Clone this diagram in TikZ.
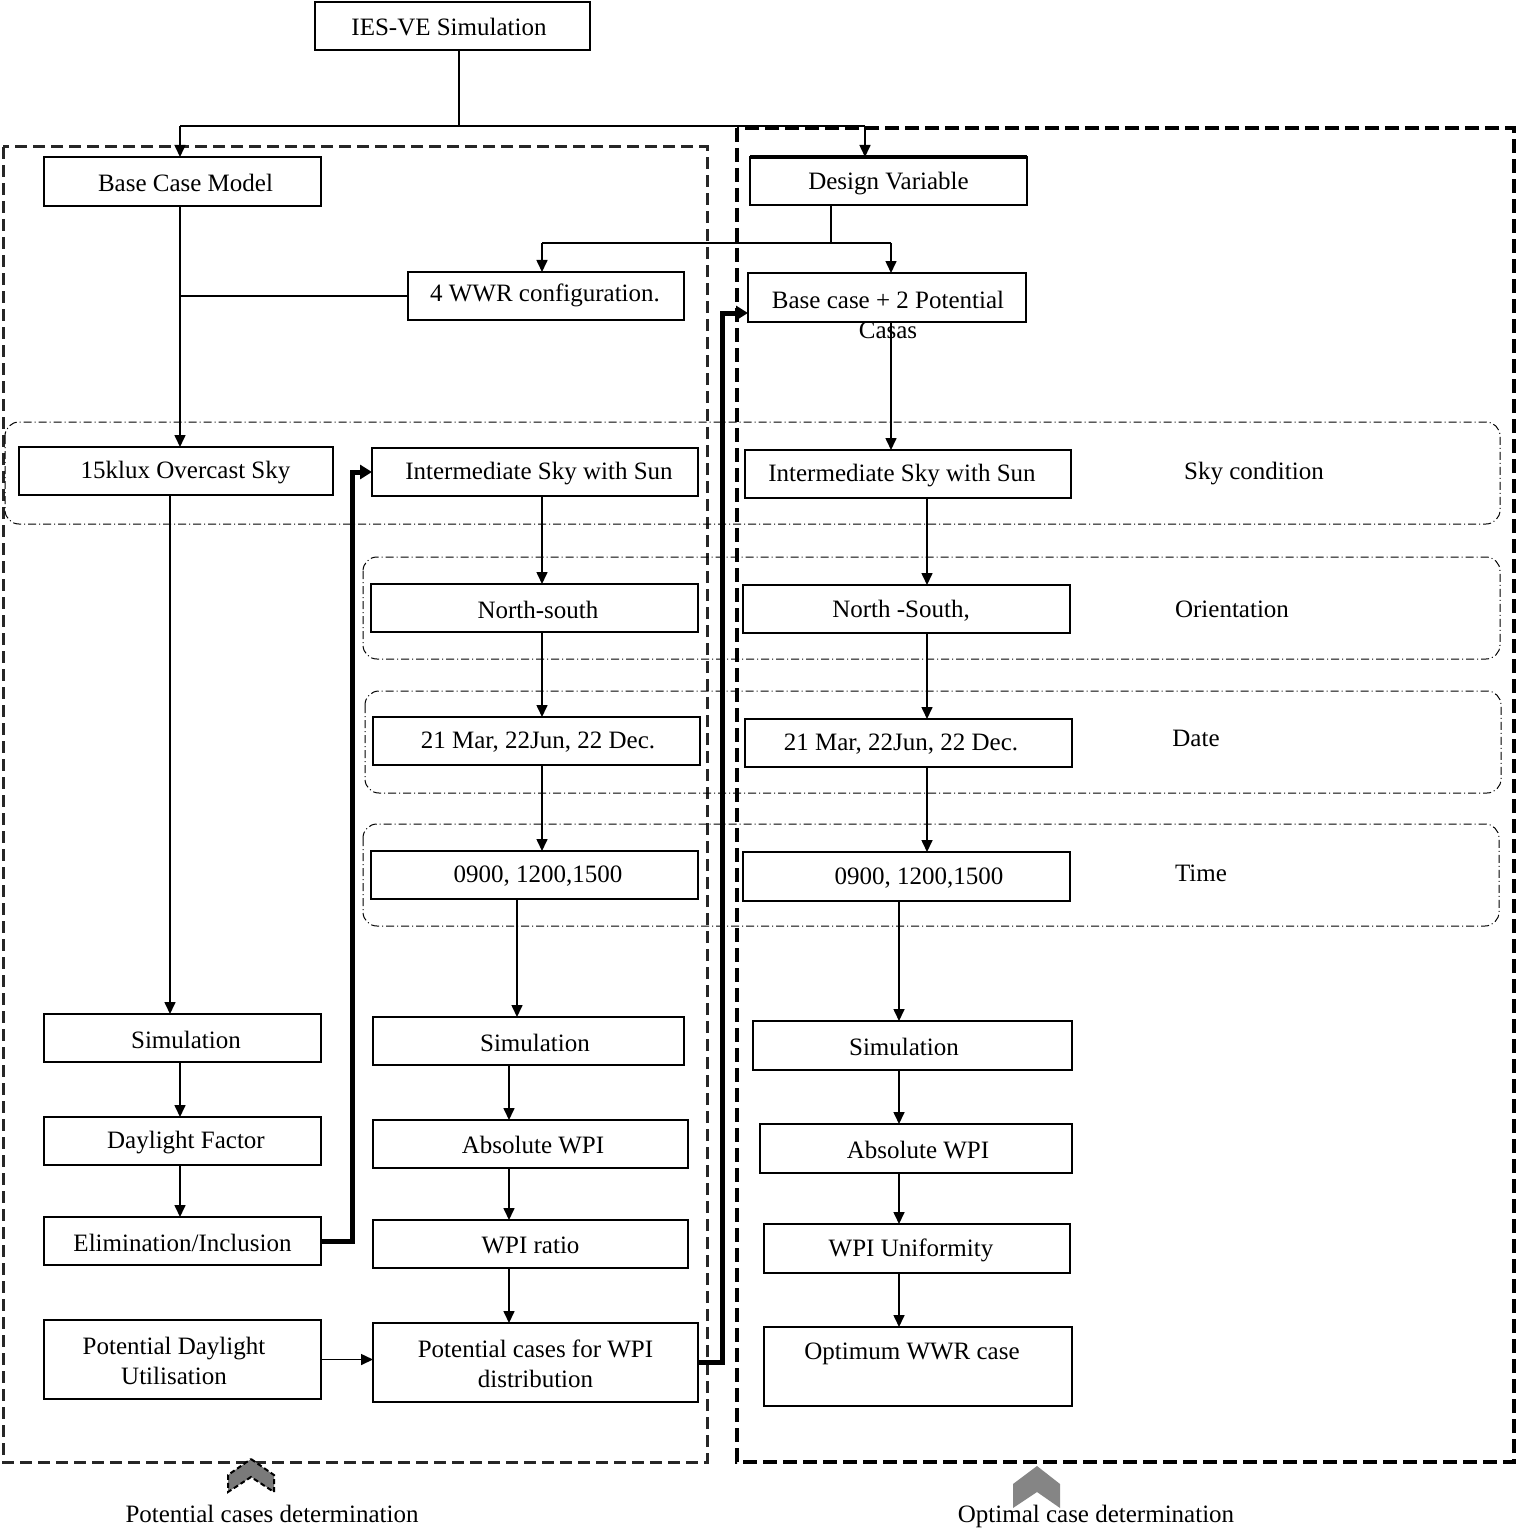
\documentclass[tikz,border=0pt]{standalone}
\usepackage{fontspec}
\setmainfont{Liberation Serif}
\usetikzlibrary{arrows.meta,calc}
\newcommand\bx[8]{%
  \node[box, minimum width={(#4-#2)*0.5pt}, minimum height={(#5-#3)*0.5pt},
        label={[txt, xshift={#6*0.5pt}, yshift={-(#7+1.5)*0.5pt}]center:{#8}}]
        (#1) at ({(#2+#4)/2},{(#3+#5)/2}) {};}
\begin{document}
\begin{tikzpicture}[x=0.5pt,y=-0.5pt,
  box/.style={draw=black, fill=white, line width=1pt, inner sep=0pt, outer sep=0pt},
  txt/.style={font=\fontsize{12.5}{15}\selectfont, align=center, inner sep=0pt},
  ln/.style={line width=0.8pt},
  arr/.style={line width=0.8pt, -{Triangle[length=6pt,width=5.5pt]}},
  boldarr/.style={line width=2.5pt, line join=miter, -{Triangle[length=6pt,width=7pt]}},
  band/.style={draw=black, line width=0.5pt, rounded corners=7pt, dash pattern=on 4pt off 1.5pt on 0.5pt off 1.5pt},
  leftframe/.style={draw=black!85, line width=1.5pt, dash pattern=on 6pt off 3pt},
  rightframe/.style={draw=black, line width=2pt, dash pattern=on 7pt off 3pt}
]
\useasboundingbox (0,0) rectangle (1516,1530);

% frames and bands
\draw[leftframe] (3,147) rectangle (707,1462);
\draw[rightframe] (737,128) rectangle (1514,1462);
\draw[band] (5,422) rectangle (1500,524);
\draw[band] (363,557) rectangle (1500,659);
\draw[band] (365,691) rectangle (1501,793);
\draw[band] (363,824) rectangle (1499,926);

% boxes
\bx{ies}{315}{2}{590}{50}{-3.5}{0}{IES-VE Simulation}
\bx{bcm}{44}{157}{321}{206}{3}{0}{Base Case Model}
\bx{dv}{750}{157}{1027}{205}{0}{1.5}{Design Variable}
\draw[line width=1.6pt] (dv.north west) -- (dv.north east);
\bx{wwr}{408}{272}{684}{320}{-1}{-2}{4 WWR configuration.}
\bx{bc2}{748}{273}{1026}{322}{1}{15.5}{Base case + 2 Potential\\Casas}
\bx{sky1}{19}{447}{333}{495}{9.5}{0}{15klux Overcast Sky}
\bx{isk1}{372}{448}{698}{496}{4}{0}{Intermediate Sky with Sun}
\bx{isk2}{745}{450}{1071}{498}{-6}{0}{Intermediate Sky with Sun}
\bx{ns1}{371}{584}{698}{632}{3.5}{0}{North-south}
\bx{ns2}{743}{585}{1070}{633}{-5.5}{0}{North -South,}
\bx{dt1}{373}{717}{700}{765}{1.5}{0}{21 Mar, 22Jun, 22 Dec.}
\bx{dt2}{745}{719}{1072}{767}{-7.5}{0}{21 Mar, 22Jun, 22 Dec.}
\bx{tm1}{371}{851}{698}{899}{3.5}{0}{0900, 1200,1500}
\bx{tm2}{743}{852}{1070}{901}{12.5}{0}{0900, 1200,1500}
\bx{sim1}{44}{1014}{321}{1062}{3.5}{0}{Simulation}
\bx{sim2}{373}{1017}{684}{1065}{6.5}{0}{Simulation}
\bx{sim3}{753}{1021}{1072}{1070}{-8.5}{0}{Simulation}
\bx{df}{44}{1117}{321}{1165}{3.5}{0}{Daylight Factor}
\bx{aw1}{373}{1120}{688}{1168}{2.5}{0}{Absolute WPI}
\bx{aw2}{760}{1124}{1072}{1173}{2}{0}{Absolute WPI}
\bx{el}{44}{1217}{321}{1265}{0}{0}{Elimination/Inclusion}
\bx{ratio}{373}{1220}{688}{1268}{0}{0}{WPI ratio}
\bx{unif}{764}{1224}{1070}{1273}{-6}{0}{WPI Uniformity}
\bx{pdu}{44}{1320}{321}{1399}{-8.5}{0}{Potential Daylight\\Utilisation}
\bx{pc}{373}{1323}{698}{1402}{0}{0}{Potential cases for WPI\\distribution}
\bx{opt}{764}{1327}{1072}{1406}{-6}{-14.5}{Optimum WWR case}

% texts
\node[txt] (lsky) at (1254,474) {Sky condition};
\node[txt] (lori) at (1232,609) {Orientation};
\node[txt] (ldate) at (1196,738) {Date};
\node[txt] (ltime) at (1201,873) {Time};
\node[txt] (lpot) at (272,1514) {Potential cases determination};
\node[txt] (lopt) at (1096,1516) {Optimal case determination};

% chevrons
\filldraw[fill=black!52, draw=black, line width=1pt, dash pattern=on 2.5pt off 1.5pt]
  (251,1459) -- (274,1475) -- (274,1492) -- (251,1477) -- (228,1492) -- (228,1475) -- cycle;
\fill[black!48] (1037,1466) -- (1060,1484) -- (1060,1508) -- (1037,1492) -- (1013,1508) -- (1013,1484) -- cycle;

% coordinates
\coordinate (jL) at (180,126);
\coordinate (jR) at (865,126);
\coordinate (jT) at (459,126);
\coordinate (jD) at (831,243);
\coordinate (jD1) at (542,243);
\coordinate (jD2) at (891,243);
\coordinate (x170) at (170,0);
\coordinate (b1) at (352,0);
\coordinate (b2) at (722,0);
\coordinate (y313) at (0,313);
\coordinate (x542) at (542,0);
\coordinate (x517) at (517,0);
\coordinate (x509) at (509,0);
\coordinate (x927) at (927,0);
\coordinate (x899) at (899,0);

% connectors
\draw[ln] (ies.south -| jT) -- (jT);
\draw[ln] (jL) -- (jR);
\draw[arr] (jL) -- (jL |- bcm.north);
\draw[arr] (jR) -- (jR |- dv.north);
\draw[arr] (bcm.south -| jL) -- (sky1.north -| jL);
\draw[ln] (wwr.west) -- (wwr.west -| jL);
\draw[ln] (dv.south -| jD) -- (jD);
\draw[ln] (jD1) -- (jD2);
\draw[arr] (jD1) -- (jD1 |- wwr.north);
\draw[arr] (jD2) -- (jD2 |- bc2.north);
\draw[arr] (bc2.south -| jD2) -- (isk2.north -| jD2);
\draw[arr] (sky1.south -| x170) -- (sim1.north -| x170);
\draw[arr] (sim1.south -| jL) -- (df.north -| jL);
\draw[arr] (df.south -| jL) -- (el.north -| jL);
\draw[boldarr] (el.east) -| (b1 |- isk1.west) -- (isk1.west);
\draw[arr] (isk1.south -| x542) -- (ns1.north -| x542);
\draw[arr] (ns1.south -| x542) -- (dt1.north -| x542);
\draw[arr] (dt1.south -| x542) -- (tm1.north -| x542);
\draw[arr] (tm1.south -| x517) -- (sim2.north -| x517);
\draw[arr] (sim2.south -| x509) -- (aw1.north -| x509);
\draw[arr] (aw1.south -| x509) -- (ratio.north -| x509);
\draw[arr] (ratio.south -| x509) -- (pc.north -| x509);
\draw[arr] (pdu.east) -- (pdu.east -| pc.west);
\draw[boldarr] (pc.east) -| (b2 |- y313) -- (bc2.west |- y313);
\draw[arr] (isk2.south -| x927) -- (ns2.north -| x927);
\draw[arr] (ns2.south -| x927) -- (dt2.north -| x927);
\draw[arr] (dt2.south -| x927) -- (tm2.north -| x927);
\draw[arr] (tm2.south -| x899) -- (sim3.north -| x899);
\draw[arr] (sim3.south -| x899) -- (aw2.north -| x899);
\draw[arr] (aw2.south -| x899) -- (unif.north -| x899);
\draw[arr] (unif.south -| x899) -- (opt.north -| x899);
\end{tikzpicture}
\end{document}
